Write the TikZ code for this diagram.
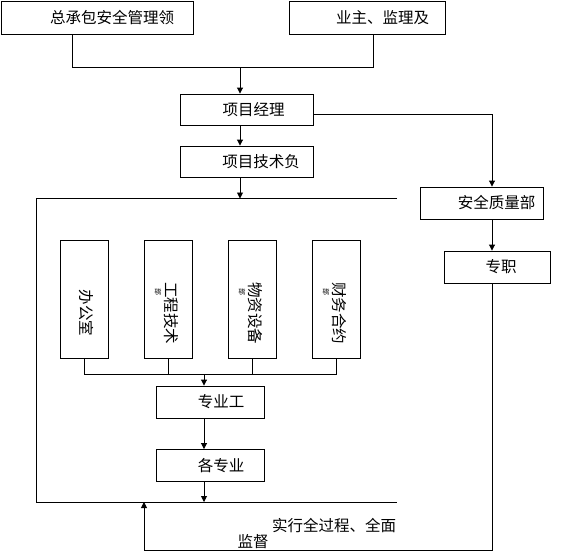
\documentclass[tikz,border=0pt]{standalone}
\usepackage{fontspec}
\setmainfont{Noto Sans CJK SC}
\usetikzlibrary{arrows.meta,positioning,calc}

\begin{document}
\begin{tikzpicture}[
  x=1pt,y=-1pt,line width=0.9pt,
  box/.style={draw,inner sep=0pt,font=\fontsize{15.5}{17}\selectfont},
  vbox/.style={draw,minimum width=48pt,minimum height=118pt,inner sep=0pt},
  vtxt/.style={rotate=-90,inner sep=0pt,font=\fontsize{15.5}{17}\selectfont},
  arr/.style={-{Triangle[length=6pt,width=6pt]}}
]
  \useasboundingbox (0,0) rectangle (564,552);
  \node[box,minimum width=192pt,minimum height=33pt] (zcb) at (97,17.5) {\hspace*{30pt}总承包安全管理领};
  \node[box,minimum width=156pt,minimum height=33pt] (yz) at (367,17.5) {\hspace*{31pt}业主、监理及};
  \node[box,minimum width=133pt,minimum height=31pt] (xmjl) at (246.5,109.5) {\hspace*{14pt}项目经理};
  \node[box,minimum width=133pt,minimum height=31pt] (jsfz) at (246.5,161.5) {\hspace*{29pt}项目技术负};
  \node[box,minimum width=123pt,minimum height=32pt] (aqzl) at (481.5,203) {\hspace*{30pt}安全质量部};
  \node[box,minimum width=106pt,minimum height=32pt] (zz) at (497,267) {\hspace*{8pt}专职};
  \node[vbox] (bgs) at (84,299) {};
  \node[vbox] (gcjs) at (168.5,299) {};
  \node[vbox] (wzsb) at (252,299) {};
  \node[vbox] (cwhy) at (336,299) {};
  \node[vtxt] (bgsT) at (86,313) {办公室};
  \node[vtxt] (gcjsT) at (171,313) {工程技术};
  \node[vtxt] (wzsbT) at (255,313) {物资设备};
  \node[vtxt] (cwhyT) at (339,313) {财务合约};
  \foreach \n/\x in {gcjs/158,wzsb/242,cwhy/326}
    \node[rotate=-90,font=\fontsize{7}{8}\selectfont,inner sep=0pt] (\n B) at (\x,292) {部};
  \node[box,minimum width=108pt,minimum height=32pt] (zyg) at (210,402) {\hspace*{22pt}专业工};
  \node[box,minimum width=108pt,minimum height=32pt] (gzy) at (210,465.5) {\hspace*{22pt}各专业};
  \node[font=\fontsize{15.5}{17}\selectfont,inner sep=0pt] (ssjd) at (334,526) {实行全过程、全面};
  \node[font=\fontsize{15.5}{17}\selectfont,inner sep=0pt] (jd) at (253,542) {监督};

  \coordinate (hub) at (240,67);
  \coordinate (frTL) at (36,198.5);
  \coordinate (frTR) at (397,198.5);
  \coordinate (frBL) at (36,502);
  \coordinate (frBR) at (397,502);
  \coordinate (bus) at (204,374.5);
  \coordinate (rx) at (492,550);
  \coordinate (lx) at (144,550);

  \draw (frTR) -- (frTL) -- (frBL) -- (frBR);
  \draw ([xshift=-25pt]zcb.south) |- (hub);
  \draw ([xshift=6pt]yz.south) |- (hub);
  \draw[arr] (hub) -- (hub |- xmjl.north);
  \draw[arr] (hub |- xmjl.south) -- (hub |- jsfz.north);
  \draw[arr] (hub |- jsfz.south) -- (hub |- frTL);
  \draw[arr] ([yshift=-4.5pt]xmjl.east) -| (rx |- aqzl.north);
  \draw[arr] (rx |- aqzl.south) -- (rx |- zz.north);
  \draw[arr] (rx |- zz.south) -- (rx) -- (lx) -- (lx |- frBL);
  \foreach \n in {bgs,gcjs,wzsb,cwhy}
    \draw (\n.south) -- (\n.south |- bus);
  \draw (bgs.south |- bus) -- (cwhy.south |- bus);
  \draw[arr] (bus) -- (bus |- zyg.north);
  \draw[arr] (bus |- zyg.south) -- (bus |- gzy.north);
  \draw[arr] (bus |- gzy.south) -- (bus |- frBL);
\end{tikzpicture}
\end{document}
